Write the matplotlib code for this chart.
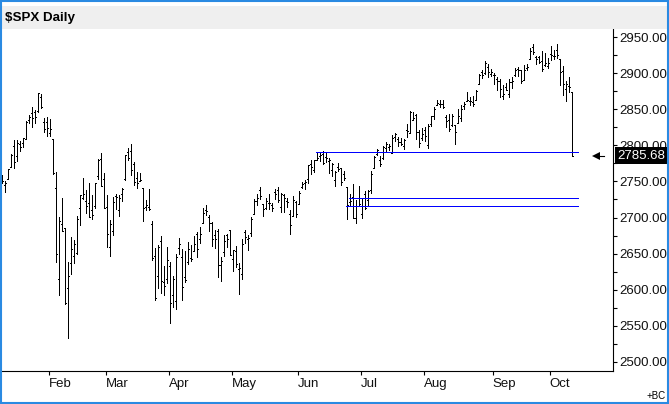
import numpy as np
import pandas as pd
import matplotlib
matplotlib.use("Agg")
import matplotlib.pyplot as plt
from matplotlib.patches import Rectangle
import matplotlib.transforms as mtransforms

plt.rcParams['font.family'] = ['Liberation Sans', 'DejaVu Sans']

# trading days shown, Jan 9 .. Oct 10 2018
jan = [9, 10, 11, 12, 16, 17, 18, 19, 22, 23, 24, 25, 26, 29, 30, 31]
feb = [1, 2, 5, 6, 7, 8, 9, 12, 13, 14, 15, 16, 20, 21, 22, 23, 26, 27, 28]
mar = [1, 2, 5, 6, 7, 8, 9, 12, 13, 14, 15, 16, 19, 20, 21, 22, 23, 26, 27, 28, 29]
apr = [2, 3, 4, 5, 6, 9, 10, 11, 12, 13, 16, 17, 18, 19, 20, 23, 24, 25, 26, 27, 30]
may = [1, 2, 3, 4, 7, 8, 9, 10, 11, 14, 15, 16, 17, 18, 21, 22, 23, 24, 25, 29, 30, 31]
jun = [1, 4, 5, 6, 7, 8, 11, 12, 13, 14, 15, 18, 19, 20, 21, 22, 25, 26, 27, 28, 29]
jul = [2, 3, 5, 6, 9, 10, 11, 12, 13, 16, 17, 18, 19, 20, 23, 24, 25, 26, 27, 30, 31]
aug = [1, 2, 3, 6, 7, 8, 9, 10, 13, 14, 15, 16, 17, 20, 21, 22, 23, 24, 27, 28, 29, 30, 31]
sep = [4, 5, 6, 7, 10, 11, 12, 13, 14, 17, 18, 19, 20, 21, 24, 25, 26, 27, 28]
oct_ = [1, 2, 3, 4, 5, 8, 9, 10]

opens = [
    2751.15, 2745.55, 2752.97, 2770.18, 2798.96, 2784.99, 2802.40, 2802.60, 2809.16, 2835.05, 2845.42, 2846.24, 2847.48, 2867.23, 2832.74, 2832.41,
    2816.45, 2808.92, 2741.06, 2614.78, 2690.95, 2685.01, 2601.78, 2636.75, 2646.27, 2651.21, 2713.46, 2727.14, 2722.99, 2720.53, 2710.42, 2715.80, 2757.37, 2780.45, 2753.78,
    2715.22, 2658.89, 2681.06, 2730.18, 2710.18, 2732.75, 2752.91, 2790.54, 2792.31, 2774.06, 2754.27, 2750.57, 2741.38, 2715.05, 2714.99, 2691.36, 2646.71, 2619.35, 2667.57, 2611.30, 2614.41,
    2633.45, 2592.17, 2584.04, 2657.36, 2645.82, 2617.18, 2638.41, 2643.69, 2653.83, 2676.90, 2670.10, 2692.74, 2710.11, 2701.16, 2692.56, 2675.40, 2680.80, 2634.92, 2651.65, 2675.47, 2682.51,
    2642.96, 2654.24, 2628.08, 2621.45, 2680.34, 2670.26, 2678.12, 2705.02, 2722.70, 2738.47, 2718.59, 2712.62, 2719.71, 2717.35, 2735.39, 2738.34, 2713.98, 2730.94, 2723.60, 2705.11, 2702.43, 2720.98,
    2718.70, 2741.67, 2748.46, 2753.25, 2774.84, 2765.84, 2780.18, 2785.60, 2787.94, 2783.21, 2777.78, 2765.79, 2752.01, 2769.73, 2769.28, 2760.79, 2742.94, 2722.12, 2728.45, 2698.69, 2727.13,
    2704.95, 2733.27, 2724.19, 2737.68, 2768.51, 2788.56, 2779.82, 2783.14, 2796.93, 2797.36, 2789.34, 2811.35, 2809.37, 2804.55, 2799.17, 2820.68, 2817.73, 2835.49, 2842.35, 2819.00, 2809.73,
    2821.17, 2800.48, 2829.62, 2840.29, 2855.92, 2856.79, 2857.19, 2838.90, 2835.46, 2827.88, 2827.95, 2831.44, 2838.32, 2853.93, 2861.51, 2860.99, 2860.29, 2862.35, 2884.69, 2901.45, 2900.62, 2908.94, 2898.37,
    2896.96, 2891.59, 2888.64, 2868.26, 2881.39, 2871.57, 2888.29, 2896.85, 2906.38, 2903.83, 2890.74, 2906.60, 2919.73, 2936.76, 2921.83, 2921.75, 2916.98, 2911.65, 2910.03,
    2926.29, 2923.80, 2931.69, 2919.35, 2902.54, 2877.53, 2882.51, 2873.90,
]
highs = [
    2759.14, 2750.80, 2767.56, 2787.85, 2807.54, 2807.04, 2805.83, 2810.33, 2833.03, 2842.24, 2852.97, 2848.56, 2872.87, 2870.62, 2837.75, 2839.26,
    2835.96, 2808.92, 2763.39, 2701.04, 2727.67, 2685.27, 2638.67, 2672.61, 2668.84, 2702.10, 2731.51, 2754.42, 2737.60, 2747.75, 2731.26, 2747.76, 2780.64, 2789.15, 2761.52,
    2730.89, 2696.25, 2728.09, 2732.08, 2730.60, 2740.45, 2786.57, 2796.98, 2801.90, 2777.11, 2763.03, 2761.85, 2741.38, 2724.22, 2739.14, 2695.68, 2657.67, 2661.36, 2674.78, 2632.65, 2659.07,
    2638.30, 2619.14, 2649.86, 2672.08, 2656.88, 2653.55, 2665.45, 2661.43, 2674.72, 2680.26, 2686.49, 2713.34, 2717.49, 2702.84, 2693.94, 2682.86, 2683.55, 2645.30, 2676.48, 2677.35, 2682.87,
    2655.27, 2660.87, 2637.14, 2670.93, 2683.35, 2676.34, 2701.27, 2726.11, 2732.86, 2742.10, 2718.59, 2727.76, 2731.96, 2719.50, 2739.19, 2742.24, 2733.33, 2731.97, 2727.36, 2710.67, 2729.34, 2722.50,
    2736.93, 2749.16, 2752.61, 2772.39, 2779.90, 2779.39, 2790.21, 2789.80, 2791.47, 2789.06, 2782.81, 2774.99, 2765.05, 2774.86, 2769.28, 2764.17, 2742.94, 2732.91, 2746.09, 2724.34, 2743.26,
    2727.26, 2736.58, 2737.83, 2764.41, 2784.65, 2795.58, 2785.91, 2799.22, 2804.53, 2801.19, 2814.19, 2816.76, 2812.05, 2809.70, 2808.61, 2829.99, 2848.03, 2845.57, 2843.17, 2821.74, 2824.46,
    2825.83, 2829.91, 2840.38, 2853.29, 2863.43, 2862.44, 2862.48, 2842.20, 2843.40, 2843.11, 2827.95, 2850.49, 2855.63, 2859.76, 2873.23, 2867.54, 2868.78, 2876.16, 2898.25, 2903.77, 2916.50, 2912.46, 2906.32,
    2900.18, 2894.21, 2892.05, 2883.81, 2886.93, 2892.52, 2894.65, 2906.76, 2908.30, 2904.65, 2911.17, 2912.36, 2934.80, 2940.91, 2923.79, 2923.95, 2931.15, 2927.22, 2920.53,
    2937.06, 2931.42, 2939.86, 2919.78, 2909.64, 2889.45, 2894.83, 2874.02,
]
lows = [
    2747.86, 2736.06, 2752.78, 2769.64, 2768.64, 2778.38, 2792.56, 2798.08, 2808.12, 2830.59, 2824.81, 2830.94, 2846.18, 2851.48, 2818.27, 2813.04,
    2812.70, 2759.97, 2638.17, 2593.07, 2681.33, 2580.56, 2532.69, 2622.45, 2637.08, 2648.87, 2689.82, 2725.11, 2706.76, 2701.29, 2697.77, 2713.74, 2753.78, 2744.22, 2713.54,
    2659.65, 2647.32, 2675.75, 2711.26, 2701.74, 2722.65, 2751.54, 2779.26, 2758.68, 2744.38, 2741.47, 2749.97, 2694.59, 2710.05, 2709.79, 2641.59, 2585.89, 2601.81, 2596.12, 2593.06, 2609.72,
    2553.80, 2575.49, 2573.61, 2649.58, 2586.27, 2610.79, 2635.78, 2639.25, 2653.83, 2645.05, 2665.16, 2692.05, 2703.63, 2681.90, 2660.61, 2657.99, 2617.32, 2612.67, 2647.16, 2659.01, 2648.04,
    2625.41, 2631.70, 2594.62, 2615.32, 2664.70, 2655.20, 2674.14, 2704.54, 2717.45, 2725.47, 2701.91, 2712.17, 2711.36, 2709.18, 2725.70, 2721.88, 2707.38, 2707.38, 2714.99, 2676.81, 2702.43, 2700.68,
    2718.70, 2740.54, 2739.51, 2748.46, 2760.16, 2763.59, 2780.17, 2778.78, 2774.65, 2776.52, 2761.73, 2757.12, 2743.19, 2763.91, 2744.39, 2752.68, 2698.67, 2715.60, 2699.38, 2691.99, 2718.03,
    2698.95, 2711.16, 2716.02, 2733.52, 2768.51, 2786.24, 2770.77, 2781.53, 2791.69, 2793.39, 2789.24, 2805.89, 2799.77, 2800.01, 2795.14, 2811.12, 2817.73, 2835.26, 2808.34, 2798.11, 2808.06,
    2805.85, 2796.34, 2827.37, 2835.98, 2855.92, 2853.09, 2851.98, 2825.81, 2819.88, 2826.58, 2802.49, 2831.44, 2833.73, 2850.62, 2861.32, 2856.05, 2854.03, 2862.35, 2884.69, 2893.50, 2898.40, 2895.22, 2895.77,
    2885.13, 2876.92, 2867.29, 2864.12, 2875.94, 2866.78, 2879.20, 2896.39, 2895.77, 2886.16, 2890.43, 2903.82, 2919.73, 2927.11, 2912.63, 2913.70, 2903.28, 2909.27, 2907.50,
    2917.91, 2919.37, 2921.36, 2883.92, 2869.29, 2862.08, 2874.27, 2784.86,
]
closes = [
    2751.29, 2748.23, 2767.56, 2786.24, 2776.42, 2802.56, 2798.03, 2810.30, 2832.97, 2839.13, 2837.54, 2839.25, 2872.87, 2853.53, 2822.43, 2823.81,
    2821.98, 2762.13, 2648.94, 2695.14, 2681.66, 2581.00, 2619.55, 2656.00, 2662.94, 2698.63, 2731.20, 2732.22, 2716.26, 2701.33, 2703.96, 2747.30, 2779.60, 2744.28, 2713.83,
    2677.67, 2691.25, 2720.94, 2728.12, 2726.80, 2738.97, 2786.57, 2783.02, 2765.31, 2749.48, 2747.33, 2752.01, 2712.92, 2716.94, 2711.93, 2643.69, 2588.26, 2658.55, 2612.62, 2605.00, 2640.87,
    2581.88, 2614.45, 2644.69, 2662.84, 2604.47, 2613.16, 2656.87, 2642.19, 2663.99, 2656.30, 2677.84, 2706.39, 2708.64, 2693.13, 2670.14, 2670.29, 2634.56, 2639.40, 2666.94, 2669.91, 2648.05,
    2654.80, 2635.67, 2629.73, 2663.42, 2672.63, 2671.92, 2697.79, 2723.07, 2727.72, 2730.13, 2711.45, 2722.46, 2720.13, 2712.97, 2733.01, 2724.44, 2733.29, 2727.76, 2721.33, 2689.86, 2724.01, 2705.27,
    2734.62, 2746.87, 2748.80, 2772.35, 2770.37, 2779.03, 2782.00, 2786.85, 2775.63, 2782.49, 2779.66, 2773.75, 2762.59, 2767.32, 2749.76, 2754.88, 2717.07, 2723.06, 2699.63, 2716.31, 2718.37,
    2726.71, 2713.22, 2736.61, 2759.82, 2784.17, 2793.84, 2774.02, 2798.29, 2801.31, 2798.43, 2809.55, 2815.62, 2804.49, 2801.83, 2806.98, 2820.40, 2846.07, 2837.44, 2818.82, 2802.60, 2816.29,
    2813.36, 2827.22, 2840.35, 2850.40, 2858.45, 2857.70, 2853.58, 2833.28, 2821.93, 2839.96, 2818.37, 2840.69, 2850.13, 2857.05, 2862.96, 2861.82, 2856.98, 2874.69, 2896.74, 2897.52, 2914.04, 2901.13, 2901.52,
    2896.72, 2888.60, 2878.05, 2871.68, 2877.13, 2887.89, 2888.92, 2904.18, 2904.98, 2888.80, 2904.31, 2907.95, 2930.75, 2929.67, 2919.37, 2915.56, 2905.97, 2914.00, 2913.98,
    2924.59, 2923.43, 2925.51, 2901.61, 2885.57, 2884.43, 2880.34, 2785.68,
]

# horizontal levels drawn on the chart
level_values = [2790.2, 2727.2, 2716.0]
level_starts = ["2018-06-11", "2018-06-26", "2018-06-25"]
last_price = 2785.68

month_days = [jan, feb, mar, apr, may, jun, jul, aug, sep, oct_]
dates = []
for m, days in enumerate(month_days):
    for d in days:
        dates.append(pd.Timestamp(2018, m + 1, d))
dates = pd.DatetimeIndex(dates)

opens = np.array(opens)
highs = np.array(highs)
lows = np.array(lows)
closes = np.array(closes)
idx = np.arange(len(dates))

W, H = 669, 404
fig = plt.figure(figsize=(W / 100, H / 100), dpi=100)
fig.patch.set_facecolor('white')

# title strip and frame
fig.patches.append(Rectangle((1 / W, (H - 29) / H), 666 / W, 23 / H, transform=fig.transFigure,
                             facecolor='#efefef', edgecolor='none', zorder=0))
fig.patches.append(Rectangle((0.6 / W, 0.8 / H), (W - 2) / W, (H - 1.6) / H, transform=fig.transFigure,
                             facecolor='none', edgecolor='#2a8ae2', linewidth=1.5, zorder=5))
fig.text(5 / W, (H - 17.5) / H, r'\$SPX Daily', fontsize=9.6, fontweight='bold', va='center', ha='left')
fig.text(666 / W, (H - 396) / H, '+BC', fontsize=7, va='center', ha='right')

ax = fig.add_axes([1 / W, (H - 371) / H, 612 / W, 342 / H])
ax.set_facecolor('white')

px = 570 / 190.0  # pixels per bar
ax.set_xlim(-0.7 / px, 611.3 / px)
ax.set_ylim(2487.5, 2961.1)

lw = 0.6
tick = 0.4
ax.vlines(idx, lows, highs, color='black', linewidth=lw, antialiased=False)
ax.hlines(opens, idx - tick, idx, color='black', linewidth=lw, antialiased=False)
ax.hlines(closes, idx, idx + tick, color='black', linewidth=lw, antialiased=False)

end_x = idx[-1] + 2.1
for v, s in zip(level_values, level_starts):
    sx = dates.get_loc(pd.Timestamp(s)) - 0.2
    ax.hlines(v, sx, end_x, color='#0000ff', linewidth=lw, antialiased=False)

# pointer to last price
ax.plot([idx[-1] + 8.0, idx[-1] + 10.6], [last_price, last_price], color='black', lw=0.8)
ax.plot([idx[-1] + 8.0], [last_price], marker='<', markersize=5.5, color='black', markeredgewidth=0)

trans = mtransforms.blended_transform_factory(ax.transAxes, ax.transData)
ax.text(1.0075, last_price, f'{last_price:.2f}', transform=trans, color='white', fontsize=9.5,
        va='center', ha='left', clip_on=False, zorder=10,
        bbox=dict(boxstyle='square,pad=0.18', facecolor='black', edgecolor='none'))

# axes styling
for side in ['top', 'left']:
    ax.spines[side].set_visible(False)
ax.spines['bottom'].set_linewidth(0.8)
ax.spines['right'].set_linewidth(0.8)

ax.yaxis.tick_right()
ax.set_yticks(np.arange(2500, 2951, 50))
ax.set_yticklabels([f'{v:.2f}' for v in np.arange(2500, 2951, 50)])
ax.set_yticks(np.arange(2525, 2951, 50), minor=True)
ax.tick_params(axis='y', which='both', direction='out', length=3, width=0.8, pad=1.5,
               labelsize=9.5, labelcolor='#111111')

month_first = [np.where(dates.month == m)[0][0] for m in range(2, 11)]
month_names = [dates[i].strftime('%b') for i in month_first]
ax.set_xticks(np.array(month_first) - 0.3)
ax.set_xticklabels(month_names)
for lab in ax.get_xticklabels():
    lab.set_horizontalalignment('left')
ax.tick_params(axis='x', direction='out', length=3, width=0.8, pad=2, labelsize=9.5, labelcolor='#111111')

fig.savefig('out.png', dpi=100)
